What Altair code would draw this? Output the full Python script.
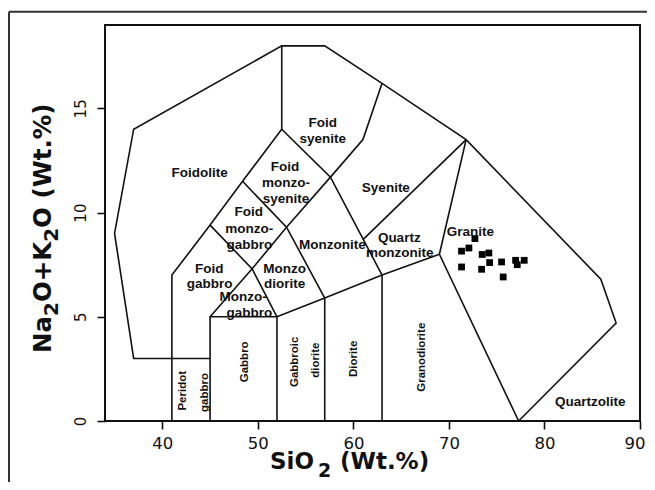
import altair as alt
import pandas as pd

# ---- field boundary lines (SiO2, Na2O+K2O) ----
outer_x = [45, 37, 35, 37, 52.5, 57, 63, 71.8, 85.9, 87.5, 77.3]
outer_y = [3, 3, 9, 14, 18, 18, 16.2, 13.5, 6.8, 4.7, 0]
foid_x = [41, 41, 45, 48.4, 52.5, 52.5]
foid_y = [0, 7, 9.4, 11.5, 14, 18]
base_x = [45, 45, 52, 57, 63, 69, 77.3]
base_y = [0, 5, 5, 5.9, 7, 8, 0]
v52_x = [52, 52]
v52_y = [0, 5]
v57_x = [57, 57]
v57_y = [0, 5.9]
v63_x = [63, 63]
v63_y = [0, 7]
tephr_x = [45, 49.4, 52]
tephr_y = [9.4, 7.3, 5]
alk_x = [45, 49.4, 53, 57.6, 61, 63]
alk_y = [5, 7.3, 9.3, 11.7, 13.5, 16.2]
phtep_x = [48.4, 53, 57]
phtep_y = [11.5, 9.3, 5.9]
phon_x = [52.5, 57.6, 63]
phon_y = [14, 11.7, 7]
qmz_x = [61, 71.8]
qmz_y = [8.7, 13.5]
gran_x = [69, 71.8]
gran_y = [8, 13.5]

paths = [
    (outer_x, outer_y), (foid_x, foid_y), (base_x, base_y), (v52_x, v52_y),
    (v57_x, v57_y), (v63_x, v63_y), (tephr_x, tephr_y), (alk_x, alk_y),
    (phtep_x, phtep_y), (phon_x, phon_y), (qmz_x, qmz_y), (gran_x, gran_y),
]

# ---- samples ----
sio2 = [72.72, 71.32, 72.09, 73.48, 74.18, 71.32, 73.42, 74.26, 75.51, 75.68, 76.98, 77.15, 77.88]
alkali = [8.75, 8.15, 8.30, 7.99, 8.06, 7.39, 7.28, 7.60, 7.63, 6.91, 7.71, 7.50, 7.71]

# ---- field names ----
lab_text = ["Foidolite", "Foid", "syenite", "Foid", "monzo-", "syenite", "Syenite",
            "Foid", "monzo-", "gabbro", "Monzonite", "Quartz", "monzonite", "Granite",
            "Foid", "gabbro", "Monzo", "diorite", "Monzo-", "gabbro", "Quartzolite"]
lab_x = [43.9, 56.8, 56.8, 52.85, 52.95, 52.95, 63.4,
         49.05, 49.1, 49.1, 57.8, 64.8, 64.85, 72.25,
         44.9, 44.95, 52.8, 52.8, 48.45, 49.1, 84.8]
lab_y = [11.9, 14.3, 13.53, 12.21, 11.41, 10.66, 11.19,
         10.02, 9.22, 8.43, 8.43, 8.79, 8.06, 9.06,
         7.31, 6.56, 7.31, 6.56, 5.95, 5.16, 0.92]

rot_text = ["Peridot", "gabbro", "Gabbro", "Gabbroic", "diorite", "Diorite", "Granodiorite"]
rot_x = [42.16, 44.43, 48.63, 53.87, 56.13, 60.04, 67.13]
rot_y = [1.45, 1.37, 2.84, 2.84, 2.92, 2.98, 3.06]

x_ticks = [40, 50, 60, 70, 80, 90]
y_ticks = [0, 5, 10, 15]

rows = []
for pid, (xs, ys) in enumerate(paths):
    for i, (xv, yv) in enumerate(zip(xs, ys)):
        rows.append({"path": pid, "ord": i, "x": xv, "y": yv})
lines_df = pd.DataFrame(rows)
pts_df = pd.DataFrame({"x": sio2, "y": alkali})
lab_df = pd.DataFrame({"x": lab_x, "y": lab_y, "t": lab_text})
rot_df = pd.DataFrame({"x": rot_x, "y": rot_y, "t": rot_text})

xscale = alt.Scale(domain=[34, 90], nice=False, zero=False)
yscale = alt.Scale(domain=[0, 19], nice=False, zero=False)

xaxis = alt.Axis(values=x_ticks, title=None, grid=False, domain=False,
                 labelFont="DejaVu Sans", labelFontSize=16.5, labelColor="#111",
                 tickColor="#111", tickWidth=1.6, tickSize=8, labelPadding=6,
                 labelFlush=True, labelFlushOffset=5)
yaxis = alt.Axis(values=y_ticks, title=None, grid=False, domain=False,
                 labelFont="DejaVu Sans", labelFontSize=15, labelColor="#111",
                 labelAngle=270, labelAlign="center", labelBaseline="alphabetic",
                 tickColor="#111", tickWidth=1.6, tickSize=8, labelPadding=12,
                 labelFlush=False)

lines = alt.Chart(lines_df).mark_line(color="#111", strokeWidth=1.6).encode(
    x=alt.X("x:Q", scale=xscale, axis=xaxis),
    y=alt.Y("y:Q", scale=yscale, axis=yaxis),
    detail="path:N",
    order="ord:Q",
)

pts = alt.Chart(pts_df).mark_square(size=46, color="black", opacity=1).encode(
    x="x:Q", y="y:Q")

labels = alt.Chart(lab_df).mark_text(
    font="Liberation Sans", fontSize=13.5, fontWeight="bold", color="#111",
    baseline="middle", align="center").encode(x="x:Q", y="y:Q", text="t:N")

rlabels = alt.Chart(rot_df).mark_text(
    font="Liberation Sans", fontSize=11.5, fontWeight="bold", color="#111",
    baseline="middle", align="center", angle=270).encode(x="x:Q", y="y:Q", text="t:N")

one = pd.DataFrame({"a": [0]})
layers = [lines, pts, labels, rlabels]

# outer figure border (top and left edges)
layers.append(alt.Chart(one).mark_rule(color="#333", strokeWidth=2).encode(
    x=alt.value(-96), x2=alt.value(560), y=alt.value(-13.3)))
layers.append(alt.Chart(one).mark_rule(color="#333", strokeWidth=2).encode(
    x=alt.value(-96), y=alt.value(-13.3), y2=alt.value(480)))

# axis titles with lowered subscripts
title_pieces = [
    ("SiO", 209, 444, 23, "right", 0),
    ("2", 213, 452, 19, "left", 0),
    ("(Wt.%)", 235, 444, 23, "left", 0),
    ("Na", -54, 328, 24.5, "left", 270),
    ("2", -47, 291, 20, "left", 270),
    ("O+K", -54, 277, 24.5, "left", 270),
    ("2", -47, 216.8, 20, "left", 270),
    ("O (Wt.%)", -54, 202.9, 24.5, "left", 270),
]
for txt, px, py, fs, al, ang in title_pieces:
    layers.append(alt.Chart(one).mark_text(
        text=txt, font="DejaVu Sans", fontWeight="bold", fontSize=fs,
        align=al, baseline="alphabetic", angle=ang, color="#111").encode(
        x=alt.value(px), y=alt.value(py)))

chart = alt.layer(*layers).properties(
    width=535, height=396,
    autosize=alt.AutoSizeParams(type="none"),
    padding={"left": 97, "top": 17, "right": 7, "bottom": 61},
).configure_view(stroke="#111", strokeWidth=2)

chart.save("out.html", embed_options={"renderer": "svg", "actions": False})
